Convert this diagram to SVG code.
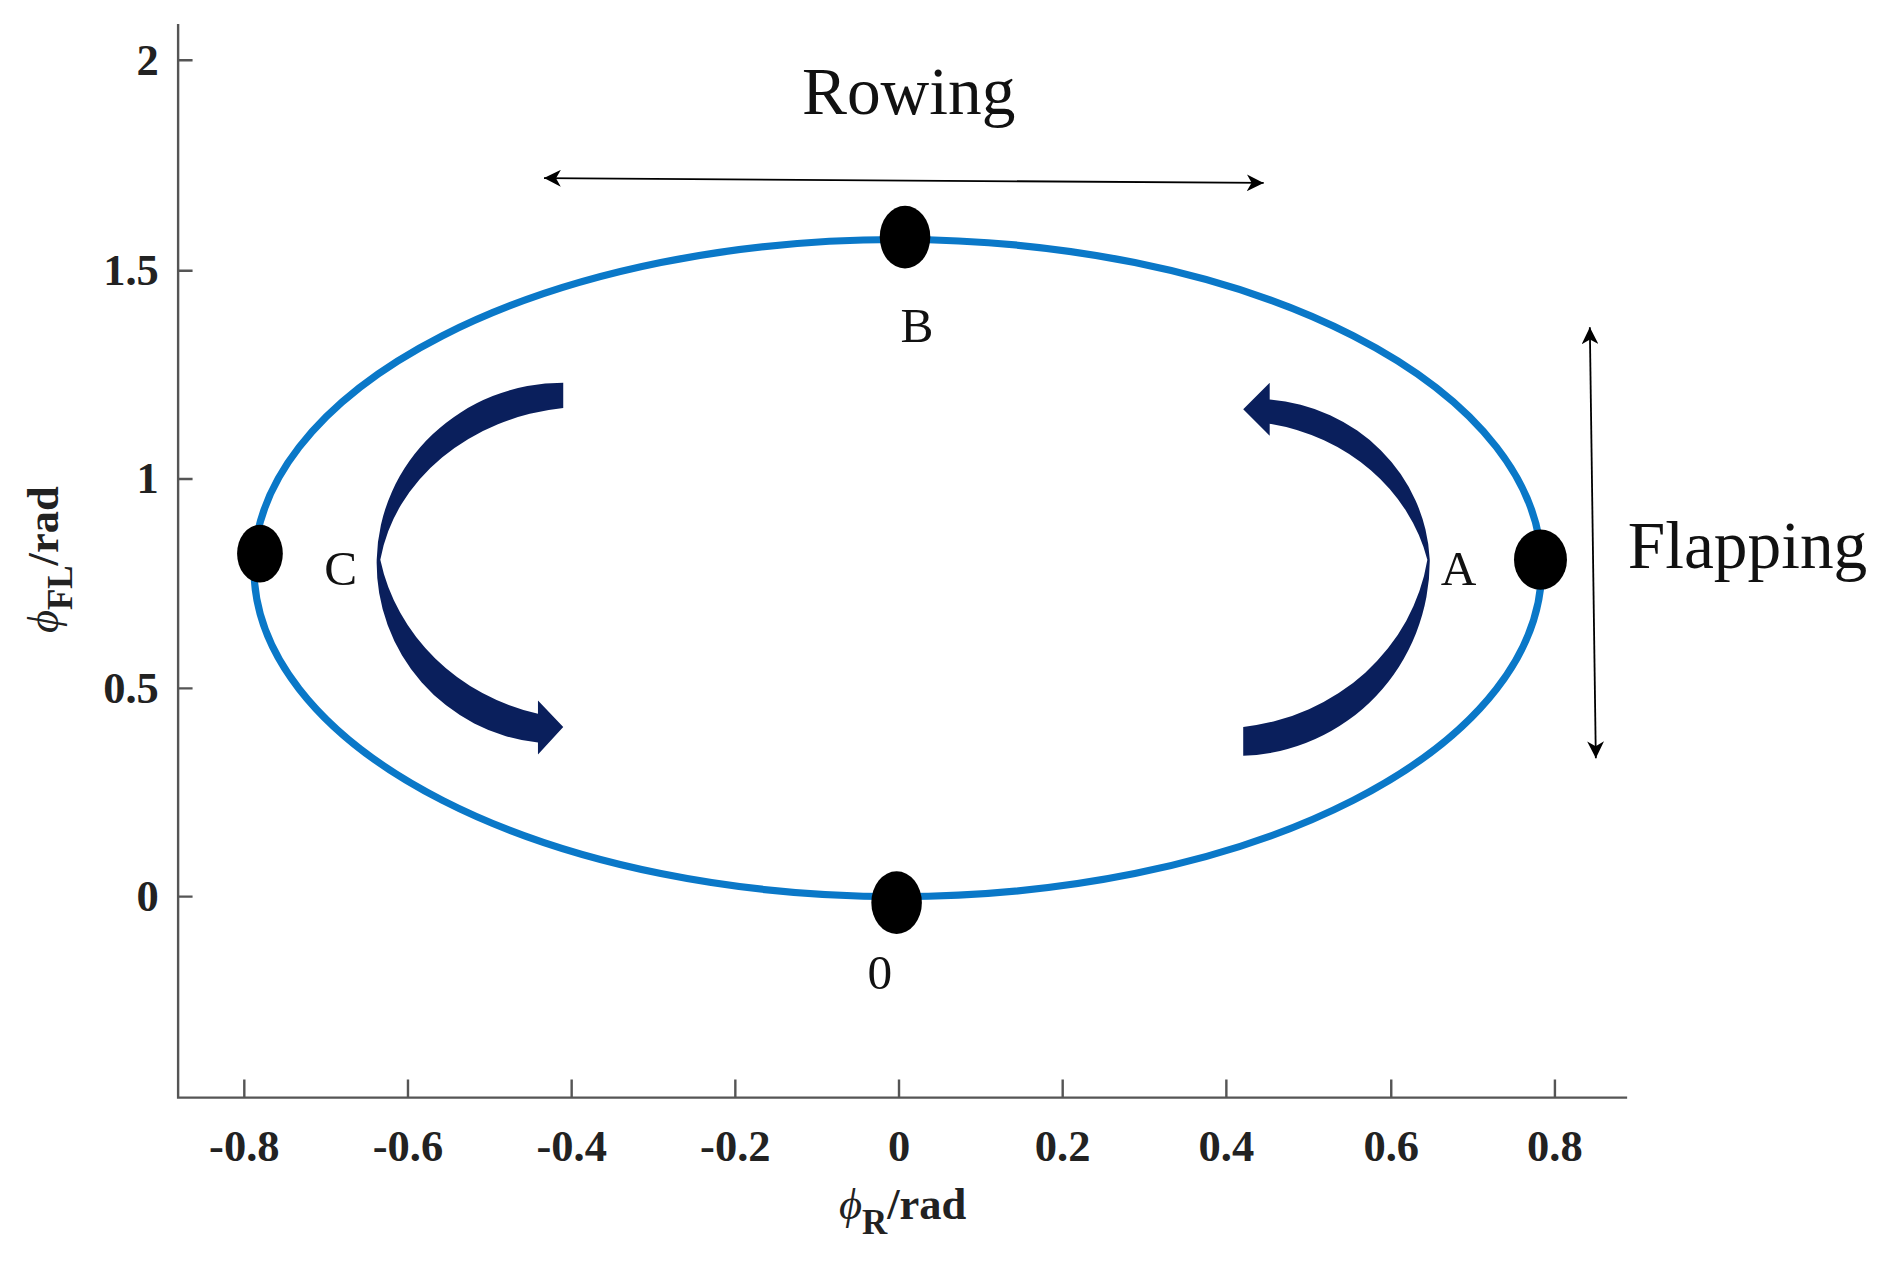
<svg xmlns="http://www.w3.org/2000/svg" width="1887" height="1271" viewBox="0 0 1887 1271">
<style>
.ax{stroke:#555;stroke-width:2;fill:none}
.tk{font-family:"Liberation Serif",serif;font-weight:bold;font-size:37px;fill:#222}
.lb{font-family:"Liberation Serif",serif;font-size:41px;fill:#111}
.big{font-family:"Liberation Serif",serif;font-size:56px;fill:#111}
.dot{fill:#000}
.cw{fill:#0a1f5c}
</style>
<defs>
<marker id="ah" markerWidth="16" markerHeight="14" refX="14" refY="7" orient="auto-start-reverse" markerUnits="userSpaceOnUse">
<path d="M0,0 L14,7 L0,14 L4,7 Z" fill="#000"/>
</marker>
</defs>
<rect width="1887" height="1271" fill="#fff"/>
<g transform="scale(1.2035)">
<g id="axes">
<path class="ax" d="M148,20 V912 H1352"/>
<path class="ax" d="M148,50 h12 M148,225 h12 M148,398 h12 M148,572 h12 M148,745 h12"/>
<path class="ax" d="M203,912 v-15 M339,912 v-15 M475,912 v-15 M611,912 v-15 M747,912 v-15 M883,912 v-15 M1019,912 v-15 M1156,912 v-15 M1292,912 v-15"/>
<g class="tk" text-anchor="end">
<text x="132" y="62">2</text><text x="132" y="237">1.5</text><text x="132" y="410">1</text><text x="132" y="584">0.5</text><text x="132" y="757">0</text>
</g>
<g class="tk" text-anchor="middle">
<text x="203" y="965">-0.8</text><text x="339" y="965">-0.6</text><text x="475" y="965">-0.4</text><text x="611" y="965">-0.2</text><text x="747" y="965">0</text><text x="883" y="965">0.2</text><text x="1019" y="965">0.4</text><text x="1156" y="965">0.6</text><text x="1292" y="965">0.8</text>
</g>
<text class="tk" x="750" y="1013" text-anchor="middle" font-size="40"><tspan font-style="italic" font-weight="normal">ϕ</tspan><tspan font-size="29" dy="12">R</tspan><tspan dy="-12">/rad</tspan></text>
<text class="tk" transform="translate(48,465) rotate(-90)" text-anchor="middle" font-size="40"><tspan font-style="italic" font-weight="normal">ϕ</tspan><tspan font-size="29" dy="12">FL</tspan><tspan dy="-12">/rad</tspan></text>
</g>
<g id="connectors">
<ellipse cx="746" cy="472" rx="535" ry="273" fill="none" stroke="#0a78c8" stroke-width="6"/>
<line x1="452" y1="148" x2="1050" y2="152" stroke="#000" stroke-width="1.5" marker-start="url(#ah)" marker-end="url(#ah)"/>
<line x1="1321" y1="272" x2="1326" y2="630" stroke="#000" stroke-width="1.5" marker-start="url(#ah)" marker-end="url(#ah)"/>
<path class="cw" d="M468,318 A155,150 0 0 0 313,465 A150,150 0 0 0 447,617 L447,627 L468,604 L447,582 L447,593 A175,165 0 0 1 316,465 A175,150 0 0 1 468,339 Z"/>
<path class="cw" d="M1033,628 A160,162 0 0 0 1188,465 A145,140 0 0 0 1055,332 L1055,318 L1033,340 L1055,362 L1055,352 A165,150 0 0 1 1186,465 A175,165 0 0 1 1033,604 Z"/>
</g>
<g id="node-B"><ellipse class="dot" cx="752" cy="197" rx="21" ry="26"/><text class="lb" x="762" y="284" text-anchor="middle">B</text></g>
<g id="node-0"><ellipse class="dot" cx="745" cy="750" rx="21" ry="26"/><text class="lb" x="731" y="822" text-anchor="middle">0</text></g>
<g id="node-C"><ellipse class="dot" cx="216" cy="460" rx="19" ry="24"/><text class="lb" x="283" y="486" text-anchor="middle">C</text></g>
<g id="node-A"><ellipse class="dot" cx="1280" cy="465" rx="22" ry="25"/><text class="lb" x="1212" y="486" text-anchor="middle">A</text></g>
<text class="big" x="755" y="95" text-anchor="middle">Rowing</text>
<text class="big" x="1452" y="472" text-anchor="middle">Flapping</text>
</g>
</svg>
